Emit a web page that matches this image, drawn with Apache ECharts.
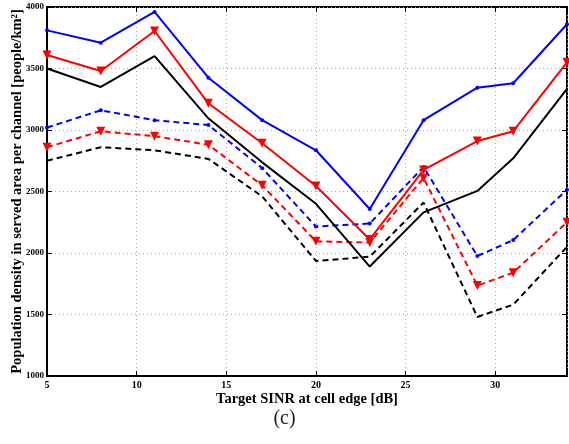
<!DOCTYPE html>
<html>
<head>
<meta charset="utf-8">
<script src="https://cdn.jsdelivr.net/npm/echarts@6/dist/echarts.min.js"></script>
<style>
  html, body { margin: 0; padding: 0; background: #fff; }
  #chart { width: 569px; height: 444px; }
</style>
</head>
<body>
<div id="chart"></div>
<script>
// Target SINR values (dB)
const sinr = [5, 8, 11, 14, 17, 20, 23, 26, 29, 31, 34];

// Population density per channel (people/km²)
const blueSolid  = [3810, 3710, 3960, 3425, 3080, 2835, 2358, 3080, 3344, 3380, 3860];
const redSolid   = [3610, 3480, 3805, 3217, 2892, 2545, 2110, 2675, 2910, 2990, 3550];
const blackSolid = [3500, 3350, 3600, 3095, 2737, 2400, 1890, 2330, 2505, 2770, 3335];
const blueDash   = [3020, 3160, 3080, 3040, 2690, 2215, 2240, 2700, 1975, 2105, 2515];
const redDash    = [2860, 2990, 2950, 2880, 2550, 2095, 2085, 2610, 1735, 1840, 2250];
const blackDash  = [2750, 2860, 2835, 2765, 2460, 1935, 1970, 2410, 1480, 1580, 2050];

const yTicks = [1000, 1500, 2000, 2500, 3000, 3500, 4000];
const xTicks = [5, 10, 15, 20, 25, 30];

const pair = ys => sinr.map((x, i) => [x, ys[i]]);
const FONT = '"Liberation Serif", "DejaVu Serif", serif';

function line(data, color, dashed, marker) {
  return {
    type: 'line',
    data: pair(data),
    symbol: marker === 'tri' ? 'triangle' : (marker === 'dot' ? 'circle' : 'none'),
    symbolRotate: marker === 'tri' ? 180 : 0,
    symbolSize: marker === 'tri' ? 9 : 4,
    showSymbol: marker !== 'none',
    itemStyle: { color: color },
    lineStyle: { color: color, width: 2, type: dashed ? [6, 4] : 'solid' },
    animation: false,
    z: 3
  };
}

const chart = echarts.init(document.getElementById('chart'), null, { renderer: 'canvas' });

chart.setOption({
  backgroundColor: '#fff',
  animation: false,
  grid: {
    left: 47, right: 2, top: 7, bottom: 68,
    containLabel: false, outerBoundsMode: 'none',
    show: true, borderColor: '#000', borderWidth: 2, backgroundColor: 'transparent'
  },
  xAxis: [{
    type: 'value', min: 5, max: 34, interval: 5,
    name: 'Target SINR at cell edge [dB]',
    nameLocation: 'middle', nameGap: 16, nameMoveOverlap: false,
    nameTextStyle: { fontFamily: FONT, fontWeight: 'bold', fontSize: 14.5, color: '#000' },
    axisLine: { show: true, lineStyle: { color: '#000', width: 2 } },
    axisTick: { show: true, inside: true, length: 5, lineStyle: { color: '#000' } },
    axisLabel: { fontFamily: FONT, fontWeight: 'bold', fontSize: 10, color: '#000', margin: 4,
                 formatter: v => xTicks.includes(v) ? String(v) : '' },
    splitLine: { show: true, lineStyle: { color: '#aaa', type: [1, 3], width: 1 } }
  }, {
    type: 'value', min: 5, max: 34, interval: 5, position: 'top',
    axisLine: { show: false },
    axisTick: { show: true, inside: true, length: 5, lineStyle: { color: '#000' } },
    axisLabel: { show: false }, splitLine: { show: false }
  }],
  yAxis: [{
    type: 'value', min: 1000, max: 4000, interval: 500,
    name: 'Population density in served area per channel [people/km²]',
    nameLocation: 'middle', nameGap: 22, nameMoveOverlap: false,
    nameTextStyle: { fontFamily: FONT, fontWeight: 'bold', fontSize: 14.5, color: '#000' },
    axisLine: { show: true, lineStyle: { color: '#000', width: 2 } },
    axisTick: { show: true, inside: true, length: 5, lineStyle: { color: '#000' } },
    axisLabel: { fontFamily: FONT, fontWeight: 'bold', fontSize: 9, color: '#000', margin: 3,
                 formatter: v => yTicks.includes(v) ? String(v) : '' },
    splitLine: { show: true, lineStyle: { color: '#aaa', type: [1, 3], width: 1 } }
  }, {
    type: 'value', min: 1000, max: 4000, interval: 500, position: 'right',
    axisLine: { show: false },
    axisTick: { show: true, inside: true, length: 5, lineStyle: { color: '#000' } },
    axisLabel: { show: false }, splitLine: { show: false }
  }],
  graphic: [{
    type: 'text', left: 'center', top: 409,
    style: { text: '(c)', font: '20px ' + FONT, fill: '#222' }
  }],
  series: [
    line(blackDash, '#000000', true, 'none'),
    line(redDash, '#ff0000', true, 'tri'),
    line(blueDash, '#0000ff', true, 'dot'),
    line(blackSolid, '#000000', false, 'none'),
    line(redSolid, '#ff0000', false, 'tri'),
    line(blueSolid, '#0000ff', false, 'dot')
  ]
});
</script>
</body>
</html>
